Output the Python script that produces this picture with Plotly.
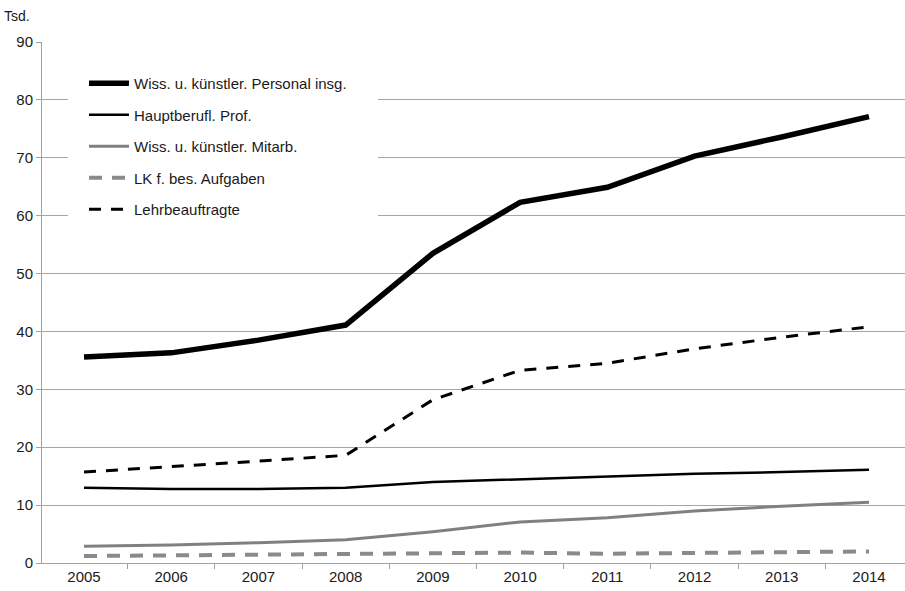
import plotly.graph_objects as go

years = ["2005", "2006", "2007", "2008", "2009", "2010", "2011", "2012", "2013", "2014"]

personal_insg = [35.6, 36.3, 38.5, 41.1, 53.5, 62.3, 64.9, 70.3, 73.6, 77.1]
hauptberufl_prof = [13.0, 12.8, 12.8, 13.0, 14.0, 14.5, 15.0, 15.4, 15.7, 16.1]
mitarbeiter = [2.9, 3.1, 3.5, 4.0, 5.4, 7.1, 7.8, 9.0, 9.8, 10.5]
lk_bes_aufgaben = [1.2, 1.3, 1.4, 1.6, 1.7, 1.8, 1.6, 1.7, 1.8, 2.0]
lehrbeauftragte = [15.7, 16.6, 17.6, 18.6, 28.2, 33.3, 34.5, 37.0, 39.0, 40.8]

y_ticks = [0, 10, 20, 30, 40, 50, 60, 70, 80, 90]

series = [
    ("Wiss. u. künstler. Personal insg.", personal_insg, "#000000", 5.5, "solid"),
    ("Hauptberufl. Prof.", hauptberufl_prof, "#000000", 2.5, "solid"),
    ("Wiss. u. künstler. Mitarb.", mitarbeiter, "#808080", 3, "solid"),
    ("LK f. bes. Aufgaben", lk_bes_aufgaben, "#8a8a8a", 4, "13px,10px"),
    ("Lehrbeauftragte", lehrbeauftragte, "#000000", 3, "12px,10px"),
]

fig = go.Figure()
for i, (name, vals, color, width, dash) in enumerate(series):
    fig.add_trace(go.Scatter(
        x=years, y=vals, name=name, mode="lines",
        legendgroup=f"g{i}",
        line=dict(color=color, width=width, dash=dash),
    ))

font_family = "Liberation Sans, Arial, sans-serif"
plot_w, plot_h = 863, 521

fig.update_layout(
    width=905, height=591,
    margin=dict(l=42, r=0, t=42, b=28),
    paper_bgcolor="white", plot_bgcolor="white",
    font=dict(family=font_family, color="#1a1a1a"),
    showlegend=True,
    legend=dict(
        x=(84 - 42) / plot_w, y=1 - (67 - 42) / plot_h,
        xanchor="left", yanchor="top",
        bgcolor="white", borderwidth=0,
        font=dict(size=15, family=font_family, color="#1a1a1a"),
        tracegroupgap=9,
        itemwidth=40,
    ),
    # white panel behind the legend, hiding the gridlines there
    shapes=[dict(
        type="rect", xref="paper", yref="paper", layer="above",
        x0=(68 - 42) / plot_w, x1=(378 - 42) / plot_w,
        y0=1 - (240 - 42) / plot_h, y1=1 - (50 - 42) / plot_h,
        fillcolor="white", line=dict(width=0),
    )],
    xaxis=dict(
        type="category",
        range=[-0.4815, 9.413],
        showgrid=False,
        showline=True, linecolor="#a0a0a0", linewidth=1,
        ticks="outside", tickson="boundaries", ticklen=5, tickcolor="#a0a0a0",
        tickfont=dict(size=15, family=font_family, color="#1a1a1a"),
        zeroline=False,
    ),
    yaxis=dict(
        range=[0, 90],
        tickvals=y_ticks,
        showgrid=True, gridcolor="#a6a6a6", gridwidth=1,
        showline=True, linecolor="#a0a0a0", linewidth=1,
        ticks="outside", ticklen=5, tickcolor="#a0a0a0",
        tickfont=dict(size=15, family=font_family, color="#1a1a1a"),
        zeroline=False,
    ),
    annotations=[dict(
        text="Tsd.", xref="paper", yref="paper",
        x=-40 / plot_w, y=1 + 26 / plot_h, xanchor="left", yanchor="middle",
        showarrow=False, font=dict(size=14, family=font_family, color="#1a1a1a"),
    )],
)

fig.write_html("out.html")
